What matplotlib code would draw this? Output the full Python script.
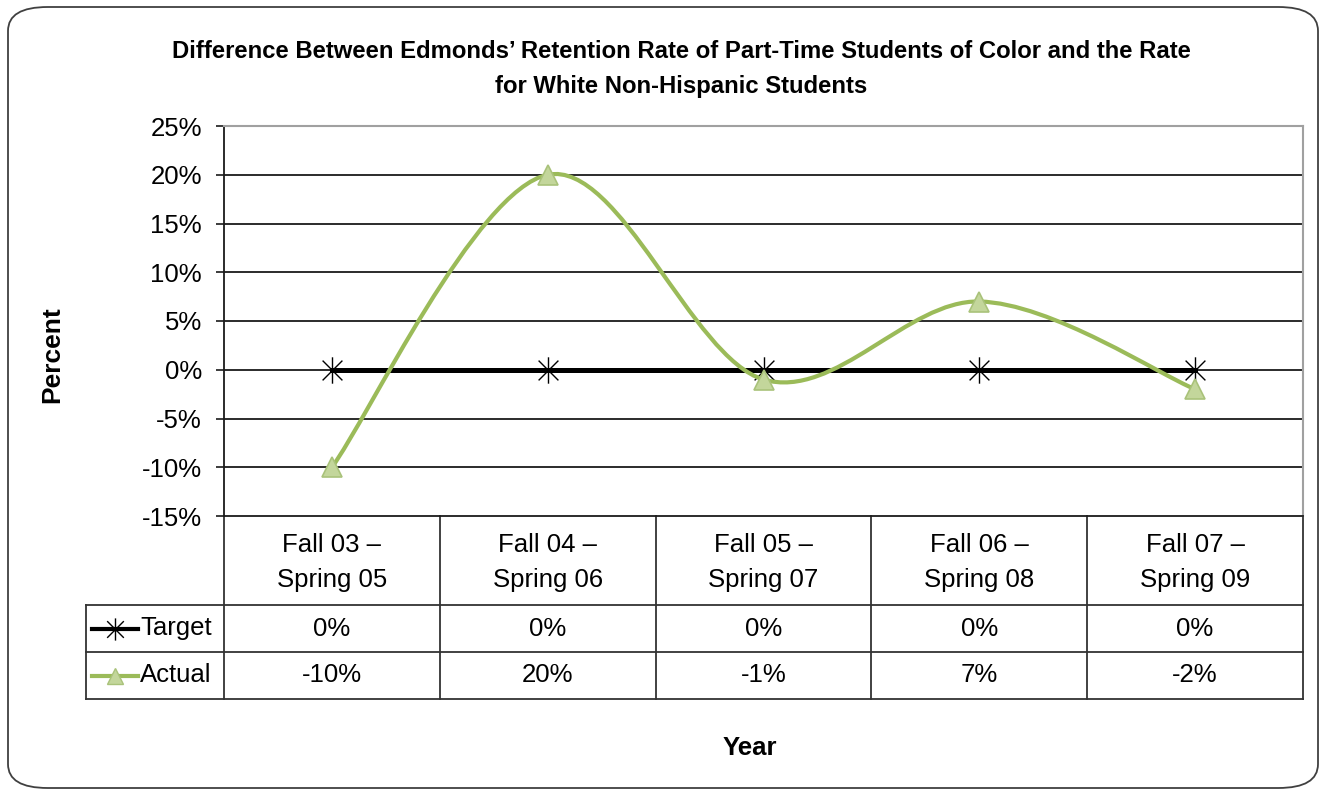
import numpy as np
import matplotlib.pyplot as plt
from matplotlib.path import Path
from matplotlib.patches import PathPatch, FancyBboxPatch
from matplotlib.lines import Line2D

plt.rcParams['font.family'] = ['Liberation Sans', 'DejaVu Sans']

# données
categories = ["Fall 03 \u2013\nSpring 05", "Fall 04 \u2013\nSpring 06", "Fall 05 \u2013\nSpring 07",
              "Fall 06 \u2013\nSpring 08", "Fall 07 \u2013\nSpring 09"]
target = [0, 0, 0, 0, 0]
actual = [-10, 20, -1, 7, -2]
yticks = [-15, -10, -5, 0, 5, 10, 15, 20, 25]

green = "#9BBB59"
green_face = "#C3D69B"
grid_col = "#1a1a1a"
tab_col = "#333333"

# marqueur étoile façon Excel (barre verticale + X)
star = Path([(0, -1), (0, 1), (-0.75, -0.75), (0.75, 0.75), (-0.75, 0.75), (0.75, -0.75)],
            [Path.MOVETO, Path.LINETO, Path.MOVETO, Path.LINETO, Path.MOVETO, Path.LINETO])

W, H = 1325, 796
fig = plt.figure(figsize=(W / 100, H / 100), dpi=100)

# cadre arrondi
fig.patches.append(FancyBboxPatch((8 / W, 8 / H), 1310 / W, 781 / H,
                                  boxstyle="round,pad=0,rounding_size=0.03",
                                  transform=fig.transFigure, fill=False,
                                  edgecolor="#404040", linewidth=1.3))

ax = fig.add_axes([224 / W, (H - 516) / H, 1079 / W, 390 / H])
x = np.arange(len(categories))

ax.set_xlim(-0.5, len(categories) - 0.5)
ax.set_ylim(-15, 25)
ax.set_yticks(yticks)
ax.set_yticklabels([f"{v}%" for v in yticks], fontsize=18.5)
ax.set_xticks([])
ax.tick_params(axis='y', length=6, width=1.2, pad=10, color=grid_col)
for v in yticks[1:-1]:
    ax.axhline(v, color=grid_col, lw=1.3, zorder=1)
for s in ["top", "right"]:
    ax.spines[s].set_color("#a0a0a0")
    ax.spines[s].set_linewidth(1.5)
for s in ["left", "bottom"]:
    ax.spines[s].set_color(grid_col)
    ax.spines[s].set_linewidth(1.3)

# Target
ax.plot(x, target, color="black", lw=3.6, marker=star, markersize=19,
        markeredgewidth=1.0, markeredgecolor="black", zorder=3)

# Actual : courbe lissée (Bezier à la Excel)
pts = np.column_stack([x, actual]).astype(float)
n = len(pts)
verts = [pts[0]]
codes = [Path.MOVETO]
for i in range(n - 1):
    p_prev = pts[max(i - 1, 0)]
    p0 = pts[i]
    p1 = pts[i + 1]
    p_next = pts[min(i + 2, n - 1)]
    c1 = p0 + (p1 - p_prev) / 6
    c2 = p1 - (p_next - p0) / 6
    verts += [c1, c2, p1]
    codes += [Path.CURVE4] * 3
ax.add_patch(PathPatch(Path(verts, codes), fill=False, edgecolor=green, lw=3.0,
                       zorder=4, capstyle='round'))
ax.plot(x, actual, linestyle="none", marker="^", markersize=14,
        markerfacecolor=green_face, markeredgecolor="#a9c27a", markeredgewidth=1.2, zorder=5)

# tableau de données
y_h = (516 - 605) / 390
y_t = (516 - 652) / 390
y_a = (516 - 699) / 390
x_leg = (86 - 224) / 1079
tr = ax.transAxes
kw = dict(transform=tr, clip_on=False, color=tab_col, lw=1.3)
for yy in [y_h, y_t, y_a]:
    ax.plot([x_leg, 1], [yy, yy], **kw)
for i in range(len(categories) + 1):
    ax.plot([i / len(categories), i / len(categories)], [0, y_a], **kw)
ax.plot([x_leg, x_leg], [y_h, y_a], **kw)

xt = ax.get_xaxis_transform()
for i, c in enumerate(categories):
    ax.text(i, (0 + y_h) / 2 - 0.005, c, transform=xt, ha="center", va="center",
            fontsize=18.5, linespacing=1.55)
    ax.text(i, (y_h + y_t) / 2, f"{target[i]}%", transform=xt, ha="center",
            va="center", fontsize=18.5)
    ax.text(i, (y_t + y_a) / 2, f"{actual[i]}%", transform=xt, ha="center",
            va="center", fontsize=18.5)

# clés de légende dans le tableau
lx0 = (92 - 224) / 1079
lx1 = (138 - 224) / 1079
lxm = (lx0 + lx1) / 2
for yy, col, mk, face, edge, ms, lab in [
        ((y_h + y_t) / 2, "black", star, "black", "black", 16, "Target"),
        ((y_t + y_a) / 2, green, "^", green_face, "#a9c27a", 11, "Actual")]:
    ax.add_line(Line2D([lx0, lx1], [yy, yy], transform=tr, clip_on=False, color=col, lw=3.0))
    ax.add_line(Line2D([lxm], [yy], transform=tr, clip_on=False, marker=mk, markersize=ms,
                       markerfacecolor=face, markeredgecolor=edge, markeredgewidth=1.0))
    ax.text((140 - 224) / 1079, yy, lab, transform=tr, ha="left", va="center", fontsize=18.5)

# titres
fig.text(681 / W, 1 - 52 / H,
         "Difference Between Edmonds\u2019 Retention Rate of Part-Time Students of Color and the Rate",
         ha="center", va="center", fontsize=17.2, fontweight="bold")
fig.text(681 / W, 1 - 86 / H, "for White Non-Hispanic Students",
         ha="center", va="center", fontsize=17.2, fontweight="bold")
fig.text(52 / W, 1 - 355 / H, "Percent", rotation=90, ha="center", va="center",
         fontsize=19, fontweight="bold")
fig.text(750 / W, 1 - 748 / H, "Year", ha="center", va="center",
         fontsize=18.5, fontweight="bold")

fig.savefig("out.png", dpi=100)
